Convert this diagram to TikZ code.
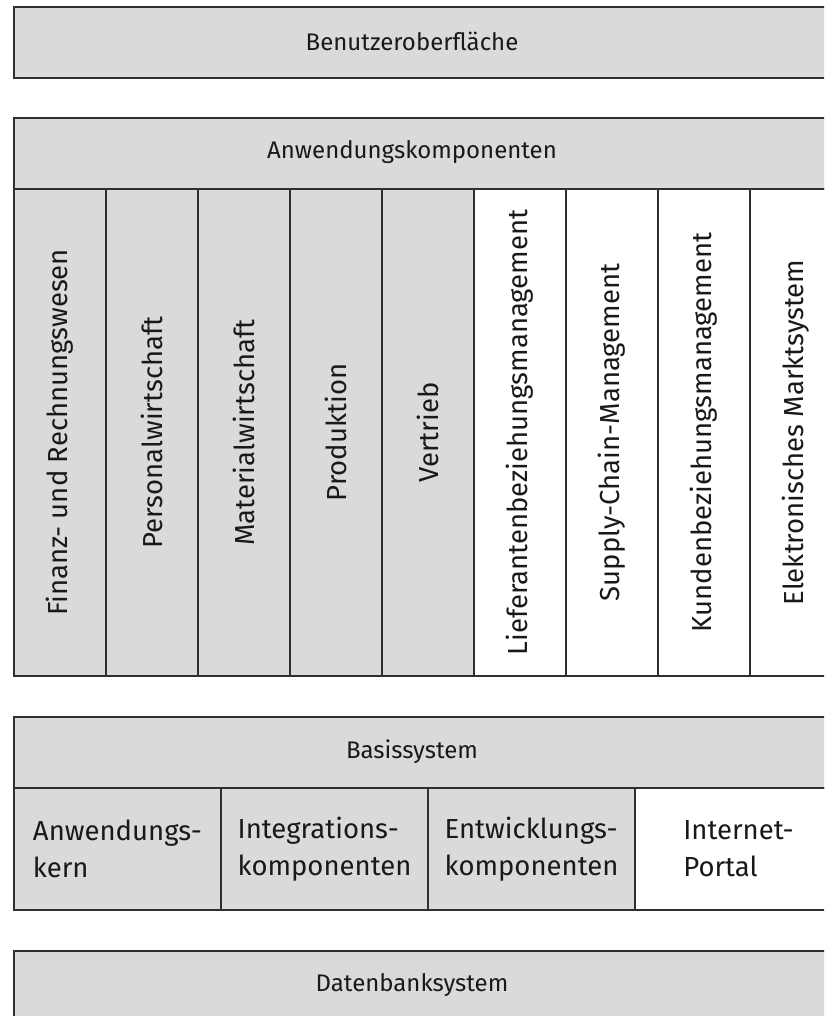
\documentclass[tikz,border=0pt]{standalone}
\usepackage{fontspec}
\setmainfont{Fira Sans}
\usetikzlibrary{positioning}
\definecolor{boxgray}{RGB}{217,218,220}
\definecolor{linegray}{RGB}{48,48,48}
\tikzset{
  layer/.style={draw=linegray,line width=2pt,fill=boxgray,inner sep=0pt,anchor=north west},
  layertext/.style={font=\fontsize{24}{30}\selectfont,text=black!90,inner sep=0pt},
  bodytext/.style={font=\fontsize{27.5}{37}\selectfont,text=black!90,inner sep=0pt},
  sidetext/.style={bodytext,rotate=90},
  subtext/.style={bodytext,align=left}
}

\begin{document}
\begin{tikzpicture}[x=1pt,y=-1pt]
\useasboundingbox (0,0) rectangle (824,1016);
\clip (0,0) rectangle (824,1016);

\node[layer,minimum width=828pt,minimum height=71pt] (ui) at (13,6) {};
\node[layertext] (uitext) at (412,41.5) {Benutzeroberfläche};

\node[layer,minimum width=828pt,minimum height=71pt] (app) at (13,117) {};
\node[layertext] (apptext) at (412,152.5) {Anwendungskomponenten};
\foreach \txt/\fillc [count=\i from 0] in {
  Finanz- und Rechnungswesen/boxgray,
  Personalwirtschaft/boxgray,
  Materialwirtschaft/boxgray,
  Produktion/boxgray,
  Vertrieb/boxgray,
  Lieferantenbeziehungsmanagement/white,
  Supply-Chain-Management/white,
  Kundenbeziehungsmanagement/white,
  Elektronisches Marktsystem/white}{
  \node[layer,fill=\fillc,minimum width=92pt,minimum height=487pt] (mod\i) at (13+92*\i,188) {};
  \node[sidetext] (modtext\i) at (mod\i.center) {\txt};
}

\node[layer,minimum width=828pt,minimum height=71pt] (basis) at (13,716) {};
\node[layertext] (basistext) at (412,751.5) {Basissystem};
\foreach \txt/\fillc [count=\i from 0] in {
  Anwendungs-\\kern/boxgray,
  Integrations-\\komponenten/boxgray,
  Entwicklungs-\\komponenten/boxgray,
  Internet-\\Portal/white}{
  \node[layer,fill=\fillc,minimum width=207pt,minimum height=122pt] (part\i) at (13+207*\i,787) {};
  \node[subtext] (parttext\i) at (part\i.center) {\txt};
}

\node[layer,minimum width=828pt,minimum height=71pt] (db) at (13,950) {};
\node[layertext] (dbtext) at (412,985.5) {Datenbanksystem};
\end{tikzpicture}
\end{document}
